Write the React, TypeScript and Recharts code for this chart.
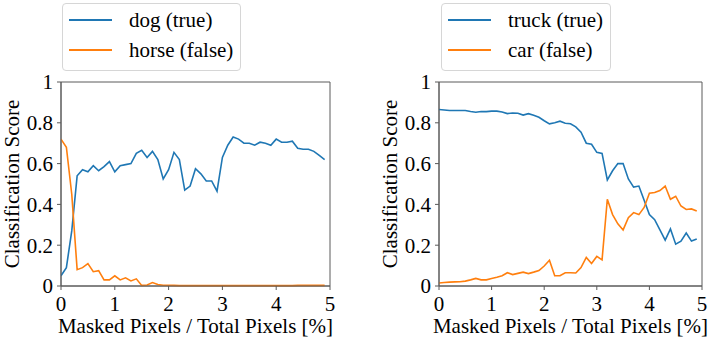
import React from 'react';
import { LineChart, Line, XAxis, YAxis, ReferenceArea, Label } from 'recharts';

const xs = [0, 0.1, 0.2, 0.3, 0.4, 0.5, 0.6, 0.7, 0.8, 0.9,
  1.0, 1.1, 1.2, 1.3, 1.4, 1.5, 1.6, 1.7, 1.8, 1.9,
  2.0, 2.1, 2.2, 2.3, 2.4, 2.5, 2.6, 2.7, 2.8, 2.9,
  3.0, 3.1, 3.2, 3.3, 3.4, 3.5, 3.6, 3.7, 3.8, 3.9,
  4.0, 4.1, 4.2, 4.3, 4.4, 4.5, 4.6, 4.7, 4.8, 4.9];

const dog = [0.05, 0.09, 0.27, 0.54, 0.57, 0.56, 0.59, 0.565, 0.585, 0.61,
  0.56, 0.59, 0.595, 0.60, 0.65, 0.665, 0.63, 0.66, 0.62, 0.525,
  0.57, 0.655, 0.62, 0.47, 0.49, 0.575, 0.55, 0.515, 0.515, 0.465,
  0.63, 0.69, 0.73, 0.72, 0.70, 0.70, 0.69, 0.705, 0.70, 0.69,
  0.72, 0.705, 0.705, 0.71, 0.675, 0.67, 0.67, 0.66, 0.64, 0.62];

const horse = [0.72, 0.68, 0.45, 0.08, 0.09, 0.11, 0.07, 0.075, 0.03, 0.03,
  0.05, 0.03, 0.04, 0.025, 0.035, 0.003, 0.005, 0.017, 0.007, 0.004,
  0.004, 0.003, 0.002, 0.002, 0.002, 0.002, 0.002, 0.002, 0.002, 0.002,
  0.002, 0.002, 0.002, 0.002, 0.002, 0.002, 0.002, 0.002, 0.002, 0.002,
  0.002, 0.002, 0.002, 0.002, 0.003, 0.003, 0.003, 0.003, 0.003, 0.003];

const truck = [0.865, 0.863, 0.86, 0.86, 0.86, 0.86, 0.855, 0.852, 0.855, 0.855,
  0.857, 0.857, 0.853, 0.845, 0.848, 0.847, 0.838, 0.845, 0.837, 0.827,
  0.81, 0.795, 0.80, 0.808, 0.798, 0.795, 0.78, 0.754, 0.70, 0.695,
  0.655, 0.65, 0.52, 0.565, 0.60, 0.60, 0.525, 0.485, 0.49, 0.42,
  0.35, 0.325, 0.275, 0.225, 0.28, 0.205, 0.22, 0.26, 0.22, 0.23];

const car = [0.015, 0.017, 0.019, 0.02, 0.021, 0.024, 0.03, 0.037, 0.03, 0.03,
  0.037, 0.043, 0.05, 0.065, 0.056, 0.062, 0.068, 0.061, 0.068, 0.076,
  0.098, 0.126, 0.05, 0.05, 0.065, 0.065, 0.064, 0.09, 0.14, 0.11,
  0.145, 0.128, 0.425, 0.35, 0.305, 0.275, 0.335, 0.36, 0.35, 0.385,
  0.455, 0.458, 0.468, 0.49, 0.425, 0.44, 0.392, 0.375, 0.378, 0.368];

const xTicks = [0, 1, 2, 3, 4, 5];
const yTicks = [0, 0.2, 0.4, 0.6, 0.8, 1];
const xLabel = 'Masked Pixels / Total Pixels [%]';
const yLabel = 'Classification Score';

const BLUE = '#1f77b4';
const ORANGE = '#ff7f0e';
const SPINE = '#5a5a5a';
const FONT = "'Liberation Serif', 'Times New Roman', Tinos, serif";

const leftData = xs.map((x, i) => ({ x, a: dog[i], b: horse[i] }));
const rightData = xs.map((x, i) => ({ x, a: truck[i], b: car[i] }));

const YLab = (props: any) => {
  const vb = props.viewBox || {};
  const bx = vb.x + vb.width - 42;
  const cy = vb.y + vb.height / 2;
  return (
    <text x={bx} y={cy} transform={`rotate(-90 ${bx} ${cy})`} textAnchor="middle"
      fontSize={21} fill="#000" style={{ fontFamily: FONT }}>{yLabel}</text>
  );
};

function Panel({ data, yAxisWidth, marginRight }: any) {
  return (
    <LineChart width={yAxisWidth === 61 ? 356 : 357} height={339} data={data}
      margin={{ top: 82, right: marginRight, bottom: 0, left: 0 }}>
      <XAxis dataKey="x" type="number" domain={[0, 5]} ticks={xTicks} allowDataOverflow
        height={53} tickSize={4} tickMargin={6}
        axisLine={{ stroke: SPINE, strokeWidth: 1 }} tickLine={{ stroke: SPINE }}
        tick={{ fontSize: 21, fill: '#000', style: { fontFamily: FONT } }} interval={0}>
        <Label value={xLabel} position="insideBottom" offset={6}
          style={{ fontSize: 21, fill: '#000', fontFamily: FONT }} />
      </XAxis>
      <YAxis type="number" domain={[0, 1]} ticks={yTicks} width={yAxisWidth}
        tickSize={4} tickMargin={4} interval={0}
        axisLine={{ stroke: SPINE, strokeWidth: 1 }} tickLine={{ stroke: SPINE }}
        tick={{ fontSize: 21, fill: '#000', style: { fontFamily: FONT } }}>
        <Label content={<YLab />} />
      </YAxis>
      <ReferenceArea x1={0} x2={5} y1={0} y2={1} fill="none" stroke={SPINE} strokeWidth={1}
        ifOverflow="visible" />
      <Line dataKey="a" type="linear" stroke={BLUE} strokeWidth={1.6}
        dot={false} isAnimationActive={false} />
      <Line dataKey="b" type="linear" stroke={ORANGE} strokeWidth={1.6}
        dot={false} isAnimationActive={false} />
    </LineChart>
  );
}

function LegendBox({ names, left }: { names: string[]; left: number }) {
  const row = (label: string, color: string) => (
    <div style={{ display: 'flex', alignItems: 'center', height: 30 }}>
      <svg width={43} height={4} style={{ display: 'block' }}>
        <line x1={0} y1={2} x2={43} y2={2} stroke={color} strokeWidth={1.8} />
      </svg>
      <span style={{ marginLeft: 17, fontSize: 21, fontFamily: FONT, color: '#000', whiteSpace: 'nowrap', lineHeight: '30px' }}>{label}</span>
    </div>
  );
  return (
    <div style={{
      position: 'absolute', left, top: 3, background: '#fff',
      border: '1px solid #d6d6d6', borderRadius: 4, padding: '1px 7px 5px 6px',
    }}>
      {row(names[0], BLUE)}
      {row(names[1], ORANGE)}
    </div>
  );
}

export default function App() {
  return (
    <div style={{ position: 'absolute', left: 0, top: 0, width: 713, height: 339, background: '#fff', overflow: 'hidden', fontFamily: FONT }}>
      <div style={{ position: 'absolute', left: 0, top: 0 }}>
        <Panel data={leftData} yAxisWidth={61} marginRight={26} />
      </div>
      <div style={{ position: 'absolute', left: 356, top: 0 }}>
        <Panel data={rightData} yAxisWidth={83} marginRight={11} />
      </div>
      <LegendBox names={['dog (true)', 'horse (false)']} left={62} />
      <LegendBox names={['truck (true)', 'car (false)']} left={441} />
    </div>
  );
}
